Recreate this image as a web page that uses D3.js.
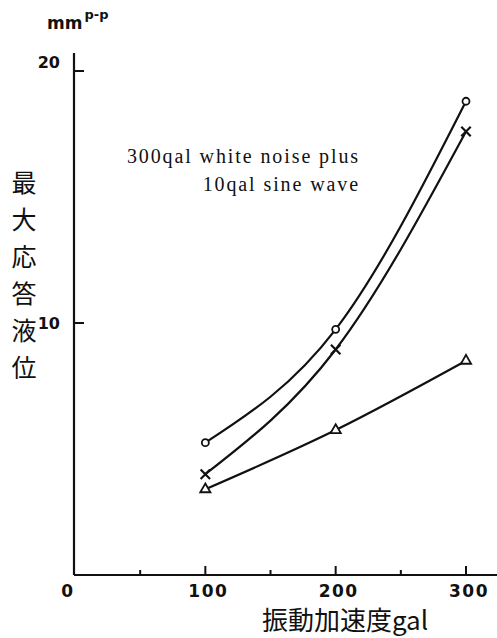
<!DOCTYPE html>
<html>
<head>
<meta charset="utf-8">
<script src="https://cdn.jsdelivr.net/npm/d3@7"></script>
<style>
  body { margin: 0; background: #fff; }
  svg { display: block; }
</style>
</head>
<body>
<div id="chart"></div>
<script>
// data
const accel = [100, 200, 300];
const circleSeries = [5.25, 9.75, 18.8];
const crossSeries = [4.0, 8.95, 17.6];
const triangleSeries = [3.4, 5.75, 8.5];
const xTicks = [0, 100, 200, 300];
const xMinorTicks = [50, 150, 250];
const yTicks = [10, 20];
const yLabelChars = ['最', '大', '応', '答', '液', '位'];

const width = 497, height = 638;
const svg = d3.select('#chart').append('svg')
  .attr('width', width)
  .attr('height', height);

const x = d3.scaleLinear().domain([0, 300]).range([75, 466]);
const y = d3.scaleLinear().domain([0, 20]).range([575, 71]);

const ink = '#111';

// axes lines
svg.append('line')
  .attr('x1', 74).attr('x2', 74)
  .attr('y1', 53).attr('y2', y(0))
  .attr('stroke', ink).attr('stroke-width', 2.2);
svg.append('line')
  .attr('x1', 74).attr('x2', width)
  .attr('y1', y(0)).attr('y2', y(0))
  .attr('stroke', ink).attr('stroke-width', 2.2);

// x ticks
svg.selectAll('.xmajor')
  .data(xTicks.filter(d => d > 0))
  .enter().append('line')
  .attr('x1', d => x(d)).attr('x2', d => x(d))
  .attr('y1', y(0)).attr('y2', y(0) - 9)
  .attr('stroke', ink).attr('stroke-width', 2);
svg.selectAll('.xminor')
  .data(xMinorTicks)
  .enter().append('line')
  .attr('x1', d => x(d)).attr('x2', d => x(d))
  .attr('y1', y(0)).attr('y2', y(0) - 5)
  .attr('stroke', ink).attr('stroke-width', 2);

svg.selectAll('.xlab')
  .data(xTicks)
  .enter().append('text')
  .attr('x', d => d === 0 ? x(d) - 7 : x(d) + 3)
  .attr('y', 597)
  .attr('text-anchor', 'middle')
  .attr('font-family', 'DejaVu Sans, sans-serif')
  .attr('font-weight', 'bold')
  .attr('font-size', 17)
  .attr('letter-spacing', 1.5)
  .attr('fill', ink)
  .text(d => d);

// y ticks
svg.selectAll('.ytick')
  .data(yTicks)
  .enter().append('line')
  .attr('x1', 74).attr('x2', 84)
  .attr('y1', d => y(d)).attr('y2', d => y(d))
  .attr('stroke', ink).attr('stroke-width', 2);

svg.selectAll('.ylab')
  .data(yTicks)
  .enter().append('text')
  .attr('x', 60)
  .attr('y', d => y(d) + (d === 20 ? -3 : 6))
  .attr('text-anchor', 'end')
  .attr('font-family', 'DejaVu Sans, sans-serif')
  .attr('font-weight', 'bold')
  .attr('font-size', 16)
  .attr('fill', ink)
  .text(d => d);

// unit
const unit = svg.append('text')
  .attr('x', 47).attr('y', 29)
  .attr('font-family', 'DejaVu Sans, sans-serif')
  .attr('font-weight', 'bold')
  .attr('font-size', 17)
  .attr('fill', ink);
unit.append('tspan').text('mm');
unit.append('tspan').attr('dx', 2).attr('dy', -10).attr('font-size', 13).text('p-p');

// y axis label, vertical
svg.selectAll('.ychar')
  .data(yLabelChars)
  .enter().append('text')
  .attr('x', 24)
  .attr('y', (d, i) => 192 + i * 37)
  .attr('text-anchor', 'middle')
  .attr('font-family', 'Noto Sans CJK JP, sans-serif')
  .attr('font-size', 25)
  .attr('fill', ink)
  .text(d => d);

// x axis label
svg.append('text')
  .attr('x', 345).attr('y', 630)
  .attr('text-anchor', 'middle')
  .attr('font-family', 'Noto Sans CJK JP, sans-serif')
  .attr('font-size', 26)
  .attr('fill', ink)
  .text('振動加速度gal');

// annotation
const note = svg.append('g')
  .attr('font-family', 'Liberation Serif, DejaVu Serif, serif')
  .attr('font-size', 20)
  .attr('letter-spacing', 1.9)
  .attr('fill', ink);
note.append('text')
  .attr('x', 360).attr('y', 163)
  .attr('text-anchor', 'end')
  .text('300qal white noise plus');
note.append('text')
  .attr('x', 360).attr('y', 191)
  .attr('text-anchor', 'end')
  .text('10qal sine wave');

// curves
const line = d3.line()
  .x(d => x(d[0]))
  .y(d => y(d[1]))
  .curve(d3.curveMonotoneX);

const series = [
  { name: 'circle', values: circleSeries },
  { name: 'cross', values: crossSeries },
  { name: 'triangle', values: triangleSeries },
];

series.forEach(s => {
  const pts = accel.map((a, i) => [a, s.values[i]]);
  svg.append('path')
    .datum(pts)
    .attr('d', line)
    .attr('fill', 'none')
    .attr('stroke', ink)
    .attr('stroke-width', 2.2);

  const g = svg.append('g');
  pts.forEach(p => {
    const cx = x(p[0]), cy = y(p[1]);
    if (s.name === 'circle') {
      g.append('circle')
        .attr('cx', cx).attr('cy', cy).attr('r', 3.5)
        .attr('fill', '#fff').attr('stroke', ink).attr('stroke-width', 1.8);
    } else if (s.name === 'cross') {
      g.append('path')
        .attr('d', d3.symbol().type(d3.symbolTimes).size(60)())
        .attr('transform', `translate(${cx},${cy})`)
        .attr('fill', 'none').attr('stroke', ink).attr('stroke-width', 2.2);
    } else {
      g.append('path')
        .attr('d', d3.symbol().type(d3.symbolTriangle).size(45)())
        .attr('transform', `translate(${cx},${cy})`)
        .attr('fill', '#fff').attr('stroke', ink).attr('stroke-width', 1.8);
    }
  });
});
</script>
</body>
</html>
